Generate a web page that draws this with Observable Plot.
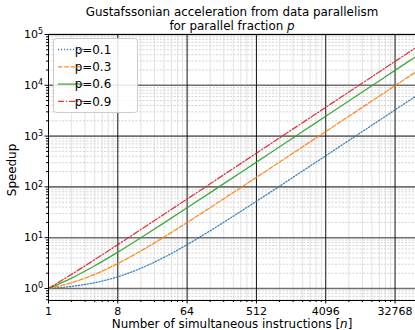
<!DOCTYPE html>
<html>
<head>
<meta charset="utf-8">
<script src="https://cdn.jsdelivr.net/npm/d3@7"></script>
<script src="https://cdn.jsdelivr.net/npm/@observablehq/plot@0.6"></script>
<style>
  html, body { margin: 0; padding: 0; background: #fff; }
  #chart { position: relative; width: 415px; height: 330px; overflow: hidden; }
</style>
</head>
<body>
<div id="chart"></div>
<script>
// Number of simultaneous instructions n (powers of 2)
const nValues = [1, 2, 4, 8, 16, 32, 64, 128, 256, 512, 1024, 2048, 4096, 8192, 16384, 32768, 65536];
// Speedup for each parallel fraction p
const speedupP01 = [1, 1.1, 1.3, 1.7, 2.5, 4.1, 7.3, 13.7, 26.5, 52.1, 103, 206, 410, 820, 1639, 3278, 6554];
const speedupP03 = [1, 1.3, 1.9, 3.1, 5.5, 10.3, 19.9, 39.1, 77.5, 154, 308, 615, 1230, 2458, 4916, 9831, 19661];
const speedupP06 = [1, 1.6, 2.8, 5.2, 10, 19.6, 38.8, 77.2, 154, 307, 615, 1229, 2458, 4915, 9830, 19661, 39322];
const speedupP09 = [1, 1.9, 3.7, 7.3, 14.5, 28.9, 57.7, 115, 231, 461, 922, 1843, 3687, 7373, 14746, 29492, 58983];

const seriesNames = ["p=0.1", "p=0.3", "p=0.6", "p=0.9"];
const seriesColors = ["#1f77b4", "#ff7f0e", "#2ca02c", "#d62728"];
const seriesDash = ["1.2,1.8", "4.5,1.8", null, "6,2,1.2,2"];
const seriesValues = [speedupP01, speedupP03, speedupP06, speedupP09];

// Tick labels / gridline positions
const xMajorTicks = [1, 8, 64, 512, 4096, 32768];
const xMinorSubs = [2, 3, 4, 5, 6, 7];
const yMajorTicks = [1, 10, 100, 1000, 10000, 100000];
const yMinorSubs = [2, 3, 4, 5, 6, 7, 8, 9];

const xMinorTicks = [];
for (const m of xMajorTicks) for (const s of xMinorSubs) if (m * s < 60500) xMinorTicks.push(m * s);
const yMinorTicks = [0.6, 0.7, 0.8, 0.9];
for (const m of yMajorTicks.slice(0, -1)) for (const s of yMinorSubs) yMinorTicks.push(m * s);

const rows = [];
seriesNames.forEach((name, i) => {
  nValues.forEach((n, j) => rows.push({series: name, n, s: seriesValues[i][j]}));
});

const W = 415, H = 330;
const mL = 48, mR = 0, mT = 34, mB = 30;

const lineMarks = seriesNames.map((name, i) =>
  Plot.line(rows.filter(d => d.series === name), {
    x: "n", y: "s", stroke: seriesColors[i], strokeWidth: 1.3,
    strokeDasharray: seriesDash[i] || undefined, strokeOpacity: 0.9,
    curve: "monotone-x", clip: true
  })
);

const plot = Plot.plot({
  width: W, height: H,
  marginLeft: mL, marginRight: mR, marginTop: mT, marginBottom: mB,
  style: {fontFamily: "DejaVu Sans, sans-serif", fontSize: "11px", color: "#000", background: "#fff"},
  x: {type: "log", base: 2, domain: [1, 60500], label: null},
  y: {type: "log", domain: [0.58, 100000], label: null},
  marks: [
    Plot.gridY(yMinorTicks, {stroke: "#c8c8c8", strokeOpacity: 1, strokeWidth: 0.8, strokeDasharray: "2,1.5"}),
    Plot.gridX(xMinorTicks, {stroke: "#dcdcdc", strokeOpacity: 1, strokeWidth: 0.8}),
    Plot.gridY(yMajorTicks, {stroke: "#707070", strokeOpacity: 1, strokeWidth: 1.6}),
    Plot.gridX(xMajorTicks, {stroke: "#111", strokeOpacity: 1, strokeWidth: 1}),
    ...lineMarks,
    Plot.frame({stroke: "#000", strokeWidth: 1}),
    Plot.axisX(xMinorTicks, {tickSize: 2, text: null, stroke: "#000"}),
    Plot.axisX(xMajorTicks, {tickSize: 3.5, tickPadding: 3, tickFormat: d => String(d), stroke: "#000", fill: "#000", label: null}),
    Plot.axisY(yMinorTicks, {tickSize: 2, text: null, stroke: "#000"}),
    Plot.axisY(yMajorTicks, {tickSize: 3.5, tickPadding: 2, tickFormat: d => "10^" + Math.round(Math.log10(d)), stroke: "#000", fill: "#000", label: null})
  ]
});

document.getElementById("chart").appendChild(plot);

const svg = d3.select(plot);
const font = "DejaVu Sans, sans-serif";

// Render y tick labels as 10 with a real superscript exponent
svg.selectAll("text").each(function() {
  const t = d3.select(this);
  if (t.selectAll("tspan").size() > 1) return;
  const s = this.textContent;
  const m = /^10\^(\d+)$/.exec(s);
  if (!m) return;
  const dy0 = t.select("tspan").empty() ? t.attr("dy") : t.select("tspan").attr("dy");
  t.text(null);
  t.append("tspan").attr("dy", dy0).text("10");
  t.append("tspan").attr("font-size", 8).attr("dy", "-0.45em").text(m[1]);
});

// Title
svg.append("text").attr("x", 232).attr("y", 16).attr("text-anchor", "middle")
  .attr("font-family", font).attr("font-size", 11.9).attr("fill", "#000")
  .text("Gustafssonian acceleration from data parallelism");
const t2 = svg.append("text").attr("x", 232).attr("y", 29.5).attr("text-anchor", "middle")
  .attr("font-family", font).attr("font-size", 11.9).attr("fill", "#000");
t2.append("tspan").text("for parallel fraction ");
t2.append("tspan").attr("font-style", "italic").text("p");

// X label
const xl = svg.append("text").attr("x", 232).attr("y", 328).attr("text-anchor", "middle")
  .attr("font-family", font).attr("font-size", 11.9).attr("fill", "#000");
xl.append("tspan").text("Number of simultaneous instructions [");
xl.append("tspan").attr("font-style", "italic").text("n");
xl.append("tspan").text("]");

// Y label
svg.append("text").attr("transform", "translate(12,170) rotate(-90)").attr("text-anchor", "middle")
  .attr("dy", "0.35em")
  .attr("font-family", font).attr("font-size", 11.9).attr("fill", "#000")
  .text("Speedup");

// Legend
const lg = svg.append("g");
lg.append("rect").attr("x", 53.5).attr("y", 38.5).attr("width", 84).attr("height", 74)
  .attr("rx", 3).attr("fill", "#fff").attr("fill-opacity", 0.85)
  .attr("stroke", "#ccc").attr("stroke-width", 1);
seriesNames.forEach((name, i) => {
  const y = 49.5 + i * 17.3;
  lg.append("line").attr("x1", 58).attr("x2", 83).attr("y1", y).attr("y2", y)
    .attr("stroke", seriesColors[i]).attr("stroke-width", 1.3).attr("stroke-opacity", 0.9)
    .attr("stroke-dasharray", seriesDash[i]);
  lg.append("text").attr("x", 93).attr("y", y).attr("dy", "0.36em")
    .attr("font-family", font).attr("font-size", 11.9).attr("fill", "#000").text(name);
});
</script>
</body>
</html>
